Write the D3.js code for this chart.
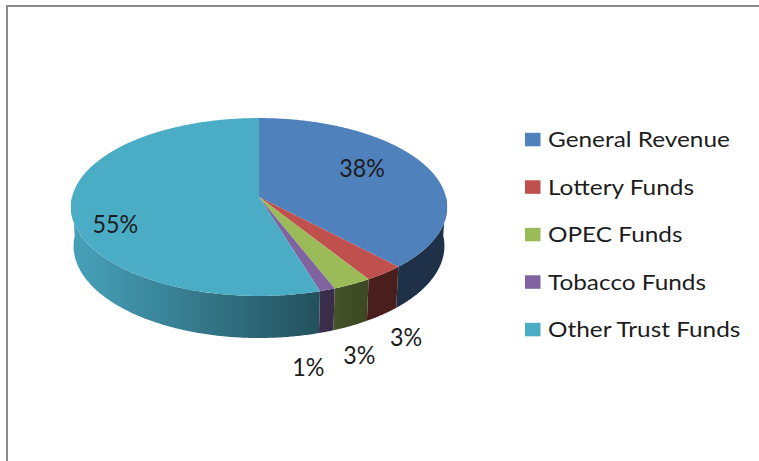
<!DOCTYPE html>
<html>
<head>
<meta charset="utf-8">
<script src="https://cdn.jsdelivr.net/npm/d3@7"></script>
<style>
  html, body { margin: 0; padding: 0; background: #fff; overflow: hidden; }
  text { font-family: Lato, "Open Sans", sans-serif; fill: #1d1d1d; }
</style>
</head>
<body>
<svg id="chart" width="759" height="461"></svg>
<script>
// Données
const categories = ["General Revenue", "Lottery Funds", "OPEC Funds", "Tobacco Funds", "Other Trust Funds"];
const shares     = [38.0, 3.1, 3.0, 1.2, 54.7];
const colors     = ["#4f81bd", "#c0504d", "#9bbb59", "#8064a2", "#4bacc6"];

const svg = d3.select("#chart");
const defs = svg.append("defs");

// Cadre (bords haut et gauche visibles)
svg.append("rect").attr("x", 6).attr("y", 5).attr("width", 753).attr("height", 2).attr("fill", "#8c8c8c");
svg.append("rect").attr("x", 6).attr("y", 5).attr("width", 2).attr("height", 456).attr("fill", "#8c8c8c");

// Caméra : camembert 3D en perspective
const cx = 259, cy = 197, F = 1469, D = 7.86;
const sa = 0.47, ca = Math.sqrt(1 - sa * sa);
const epaisseur = 0.2385;

function proj(a, r, y) {
    const X = r * Math.sin(a), Z = r * Math.cos(a);
    const yc = Z * sa + y * ca, zc = D + Z * ca - y * sa;
    return [cx + F * X / zc, cy - F * yc / zc];
}
function arcPts(a0, a1, r, y) {
    const n = Math.max(2, Math.ceil((a1 - a0) / (Math.PI / 360)));
    return d3.range(n + 1).map(i => proj(a0 + (a1 - a0) * i / n, r, y));
}

const arcs = d3.pie().sort(null).value(d => d)(shares);
const line = d3.line();

// Ombrage des flancs : plus clair à gauche, plus sombre à droite
const ombre = d3.scaleLinear().domain([80, 365]).range([0.93, 0.38]).clamp(true);
const gx0 = 70, gx1 = 450;

arcs.forEach((d, i) => {
    const g = defs.append("linearGradient").attr("id", "flanc" + i)
        .attr("gradientUnits", "userSpaceOnUse")
        .attr("x1", gx0).attr("x2", gx1).attr("y1", 0).attr("y2", 0);
    const base = d3.rgb(colors[i]);
    d3.range(0, 1.0001, 0.05).forEach(t => {
        const k = ombre(gx0 + t * (gx1 - gx0));
        g.append("stop").attr("offset", t)
            .attr("stop-color", d3.rgb(base.r * k, base.g * k, base.b * k).formatHex());
    });
});

// Flancs (moitié avant seulement)
const gFlancs = svg.append("g");
arcs.forEach((d, i) => {
    const s0 = Math.max(d.startAngle, Math.PI / 2), s1 = Math.min(d.endAngle, 3 * Math.PI / 2);
    if (s1 <= s0) return;
    const pts = arcPts(s0, s1, 1, 0).concat(arcPts(s0, s1, 1, -epaisseur).reverse());
    gFlancs.append("path").attr("d", line(pts) + "Z").attr("fill", `url(#flanc${i})`);
});

// Dessus
const gDessus = svg.append("g");
arcs.forEach((d, i) => {
    const pts = [proj(0, 0, 0)].concat(arcPts(d.startAngle, d.endAngle, 1, 0));
    gDessus.append("path").attr("d", line(pts) + "Z").attr("fill", colors[i]);
});

// Étiquettes de pourcentage
const total = d3.sum(shares);
const fmt = d3.format(".0%");
const placement = [            // décalage angulaire (deg), rayon, hauteur (en épaisseurs)
    { da: -9.3, r: 0.667, h: 0 },
    { da: 2.0,  r: 1.22,  h: -1 },
    { da: 4.1,  r: 1.24,  h: -1 },
    { da: 8.6,  r: 1.27,  h: -1 },
    { da: -13.3, r: 0.80, h: 0 }
];
const gEtiq = svg.append("g");
const etiquettes = arcs.map((d, i) => {
    const p = placement[i];
    const mid = (d.startAngle + d.endAngle) / 2 + p.da * Math.PI / 180;
    const [x, y] = proj(mid, p.r, p.h * epaisseur);
    const t = gEtiq.append("text").attr("text-anchor", "middle").attr("dy", "0.36em")
        .style("font-size", "24.5px").text(fmt(d.value / total));
    return { t, x, y };
});
const kEtiq = 45.7 / etiquettes[0].t.node().getComputedTextLength();
etiquettes.forEach(e => e.t.attr("transform", `translate(${e.x},${e.y}) scale(${kEtiq},1)`));

// Légende
const yLeg = d3.scalePoint().domain(categories).range([147.3, 337.3]);
const gLeg = svg.append("g");
const textesLeg = categories.map((c, i) => {
    const yb = yLeg(c);
    gLeg.append("rect").attr("x", 525).attr("y", yb - 14.5).attr("width", 15.5).attr("height", 13.5)
        .attr("fill", colors[i]);
    const t = gLeg.append("text").style("font-size", "21.5px").text(c);
    return { t, yb };
});
const kLeg = 182 / textesLeg[0].t.node().getComputedTextLength();
textesLeg.forEach(e => e.t.attr("transform", `translate(548,${e.yb}) scale(${kLeg},1)`));
</script>
</body>
</html>
